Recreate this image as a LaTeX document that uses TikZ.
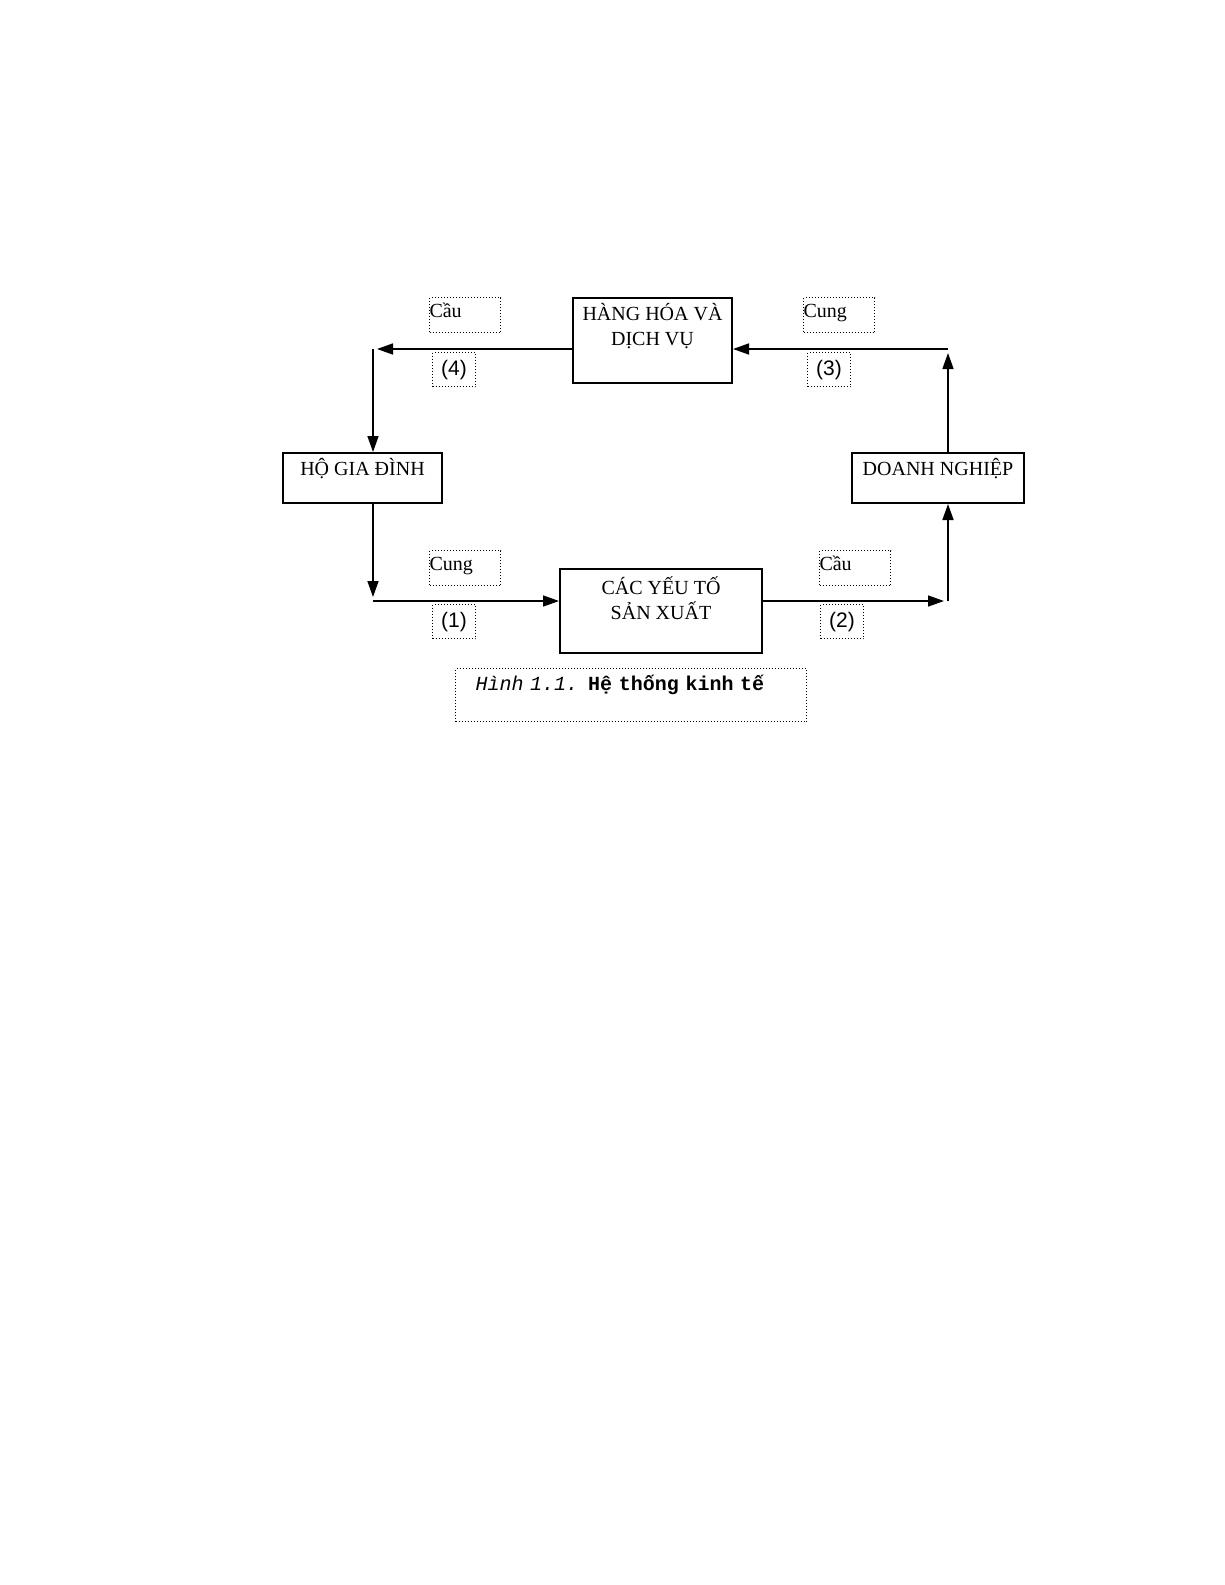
\documentclass[tikz,border=0pt]{standalone}
\usepackage{fontspec}
\setmainfont{Liberation Serif}
\newfontfamily\labelfont{Liberation Sans}
\newfontfamily\capfont{Liberation Mono}
\usetikzlibrary{arrows.meta}

\tikzset{
    block/.style={draw, line width=1pt, inner sep=0pt, align=center,
        font=\fontsize{10}{12.5}\selectfont},
    tag/.style={draw, densely dotted, line width=0.5pt, inner sep=0pt,
        text width=35.5pt, align=left, text height=10pt, text depth=7.5pt,
        font=\fontsize{10}{12}\selectfont},
    num/.style={draw, densely dotted, line width=0.5pt, inner sep=0pt,
        minimum width=21.5pt, text height=11.5pt, text depth=5.5pt,
        font=\labelfont\fontsize{10.5}{12}\selectfont},
    flow/.style={line width=0.8pt, -{Triangle[length=8pt,width=5.5pt]}},
    cornerflow/.style={flow, shorten >=2pt}
}

\begin{document}
\begin{tikzpicture}[x=0.5pt, y=-0.5pt]
    \useasboundingbox (0,0) rectangle (1225,1585);

    % --- BLOCKS ---
    \node[block, minimum width=79.5pt, text height=23.5pt, text depth=19pt, anchor=north]
        (hang) at (652.5,297) {HÀNG HÓA VÀ\\DỊCH VỤ};
    \node[block, minimum width=79.5pt, text height=11pt, text depth=14pt, anchor=north]
        (hogd) at (362.5,452) {HỘ GIA ĐÌNH};
    \node[block, minimum width=86pt, text height=11pt, text depth=14pt, anchor=north]
        (dn) at (938,452) {DOANH NGHIỆP};
    \node[block, minimum width=101pt, text height=25pt, text depth=17pt, anchor=north]
        (yeuto) at (661,568) {CÁC YẾU TỐ\\SẢN XUẤT};

    % --- CORNERS ---
    \coordinate (c4) at (373,349);
    \coordinate (c1) at (373,601);
    \coordinate (c2) at (948,601);
    \coordinate (c3) at (948,349);

    % --- LABELS ---
    \node[tag, anchor=north west] (cau4) at (429,297) {Cầu};
    \node[num, anchor=north west] (n4) at (432,352) {(4)};
    \node[tag, anchor=north west] (cung3) at (803,297) {Cung};
    \node[num, anchor=north west] (n3) at (807,352) {(3)};
    \node[tag, anchor=north west] (cung1) at (429,550) {Cung};
    \node[num, anchor=north west] (n1) at (432,604) {(1)};
    \node[tag, anchor=north west] (cau2) at (819,550) {Cầu};
    \node[num, anchor=north west] (n2) at (820,604) {(2)};

    % --- FLOWS ---
    \draw[cornerflow] (hang.west |- c4) -- (c4);
    \draw[flow] (c4) -- (c4 |- hogd.north);
    \draw[cornerflow] (c1 |- hogd.south) -- (c1);
    \draw[flow] (c1) -- (yeuto.west |- c1);
    \draw[cornerflow] (yeuto.east |- c2) -- (c2);
    \draw[flow] (c2) -- (c2 |- dn.south);
    \draw[cornerflow] (c3 |- dn.north) -- (c3);
    \draw[flow] (c3) -- (hang.east |- c3);

    % --- CAPTION ---
    \node[draw, densely dotted, line width=0.5pt, anchor=north west, inner ysep=0pt,
        inner xsep=10pt, text width=155.5pt, align=left, text height=11pt, text depth=15.5pt,
        font=\capfont\fontsize{10}{12}\selectfont]
        (cap) at (455,668) {\textit{Hình 1.1.} \textbf{Hệ thống kinh tế}};
\end{tikzpicture}
\end{document}
